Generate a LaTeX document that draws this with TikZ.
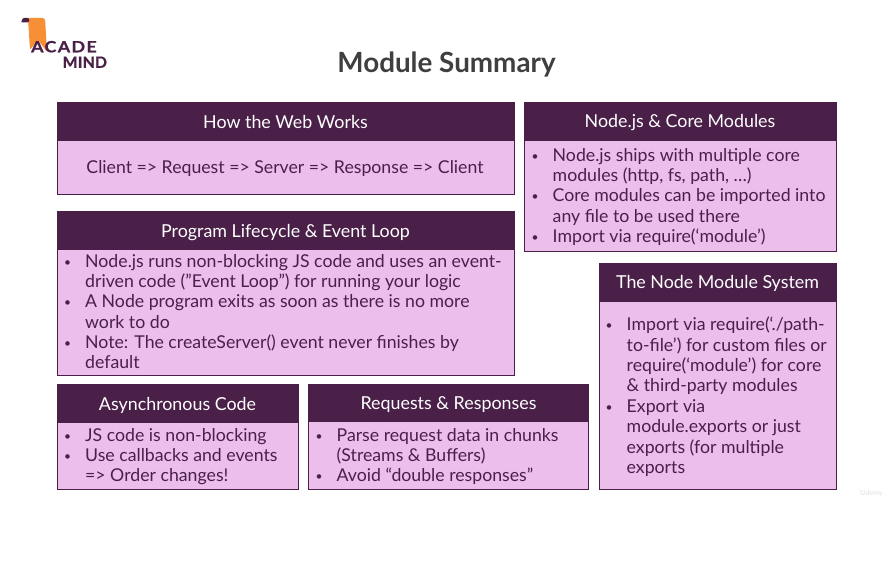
\documentclass[tikz,border=0pt]{standalone}
\usepackage{fontspec}
\setmainfont{Lato}
\definecolor{plum}{HTML}{4A2049}
\definecolor{pinkb}{HTML}{ECBEEB}
\definecolor{orangeb}{HTML}{F68F35}
\definecolor{titlegray}{HTML}{3F3F3F}
\newcommand{\bl}[1]{\makebox[21pt][l]{\raisebox{1.2pt}{\fontsize{12}{12}\selectfont •}}#1}
\newcommand{\cl}[1]{\hspace*{21pt}#1}
\tikzset{
  x=1pt,y=-1pt,
  bodybox/.style={draw=plum,line width=0.9pt,fill=pinkb},
  headbox/.style={draw=plum,line width=0.9pt,fill=plum},
  headtext/.style={text=white,font=\fontsize{17.85}{20}\selectfont,inner sep=0pt,text height=13pt,text depth=4pt},
  bodytext/.style={text=plum,font=\fontsize{17.7}{20.35}\selectfont,inner sep=0pt,align=left,anchor=north west},
  logotext/.style={text=plum,font=\fontsize{15.5}{16}\bfseries\selectfont,inner sep=0pt,anchor=base west},
}
\begin{document}
\begin{tikzpicture}
\useasboundingbox (0,0) rectangle (896,569);
\fill[white] (0,0) rectangle (896,569);
% logo
\fill[orangeb,rounded corners=2pt] (28,18) -- (45,18) -- (47,52) -- (38,40) -- (30,50) -- cycle;
\fill[plum,rounded corners=1pt] (21,22.5) -- (23,18) -- (29,18) -- (29,22.5) -- cycle;
\node[logotext] (logoa) at (31,52.3) {\addfontfeature{FakeBold=0.8,FakeStretch=1.15,LetterSpace=9}ACADE};
\node[logotext] (logob) at (62.5,67.8) {\addfontfeature{FakeBold=0.8,FakeStretch=1.02,LetterSpace=1}MIND};
% title
\node[text=titlegray,font=\fontsize{27.8}{30}\bfseries\selectfont,inner sep=0pt] (title) at (446.5,65) {Module Summary};
% boxes
\path[bodybox] (57,102) rectangle (514,194);
\path[headbox] (57,102) rectangle (514,140);
\node[headtext] (h1) at (285.5,124) {How the Web Works};
\node[bodytext,anchor=center] (b1) at (285,168.5) {Client => Request => Server => Response => Client};

\path[bodybox] (524,102) rectangle (836,251);
\path[headbox] (524,102) rectangle (836,140);
\node[headtext] (h2) at (680,123.5) {Node.js \& Core Modules};
\node[bodytext] (b2) at (531.5,148) {\bl{Node.js ships with multiple core}\\\cl{modules (http, fs, path, …)}\\\bl{Core modules can be imported into}\\\cl{any file to be used there}\\\bl{Import via require(‘module’)}};

\path[bodybox] (57,211) rectangle (514,375);
\path[headbox] (57,211) rectangle (514,249);
\node[headtext] (h3) at (285.5,232.5) {Program Lifecycle \& Event Loop};
\node[bodytext] (b3) at (64,254) {\bl{Node.js runs non-blocking JS code and uses an event-}\\\cl{driven code (”Event Loop”) for running your logic}\\\bl{A Node program exits as soon as there is no more}\\\cl{work to do}\\\bl{Note: The createServer() event never finishes by}\\\cl{default}};

\path[bodybox] (599,263.5) rectangle (836,489);
\path[headbox] (599,263.5) rectangle (836,301);
\node[headtext] (h4) at (717.5,284) {The Node Module System};
\node[bodytext] (b4) at (605.5,317) {\bl{Import via require(‘./path-}\\\cl{to-file’) for custom files or}\\\cl{require(‘module’) for core}\\\cl{\& third-party modules}\\\bl{Export via}\\\cl{module.exports or just}\\\cl{exports (for multiple}\\\cl{exports}};

\path[bodybox] (57,384.5) rectangle (298,489);
\path[headbox] (57,384.5) rectangle (298,422);
\node[headtext] (h5) at (177.5,405.5) {Asynchronous Code};
\node[bodytext] (b5) at (64,428) {\bl{JS code is non-blocking}\\\bl{Use callbacks and events}\\\cl{=> Order changes!}};

\path[bodybox] (308.5,384) rectangle (588,489);
\path[headbox] (308.5,384) rectangle (588,421);
\node[headtext] (h6) at (448.5,404.5) {Requests \& Responses};
\node[bodytext] (b6) at (315.5,428) {\bl{Parse request data in chunks}\\\cl{(Streams \& Buffers)}\\\bl{Avoid “double responses”}};

\node[text=black!9,font=\fontsize{7}{8}\bfseries\selectfont,inner sep=0pt,anchor=west] (wm) at (860,493.5) {Udemy};
\end{tikzpicture}
\end{document}
